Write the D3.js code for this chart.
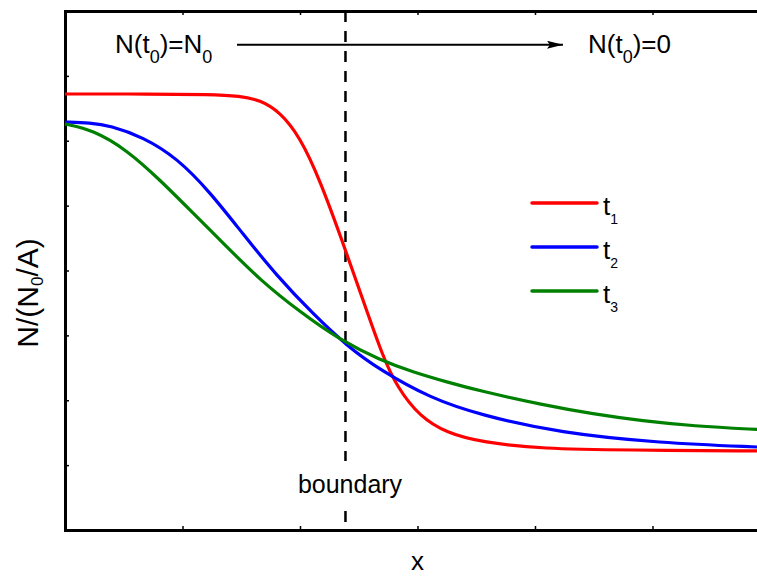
<!DOCTYPE html>
<html>
<head>
<meta charset="utf-8">
<script src="https://cdn.jsdelivr.net/npm/d3@7/dist/d3.min.js"></script>
<style>
  html, body { margin: 0; padding: 0; background: #fff; }
  svg { display: block; font-family: "Liberation Sans", Arial, sans-serif; }
</style>
</head>
<body>
<svg id="chart" width="757" height="576"></svg>
<script>
// ---- data ----
const seriesNames = ["t1", "t2", "t3"];
const seriesColors = ["#ff0000", "#0000ff", "#008000"];

const xT1 = [0, 0.723, 1.234, 1.489, 1.660, 1.830, 2.000, 2.170, 2.366, 2.536, 2.706, 2.826, 3.021, 3.251, 3.532, 4.068, 4.783, 5.889, 6.0];
const yT1 = [6.721, 6.721, 6.713, 6.690, 6.628, 6.443, 6.058, 5.395, 4.424, 3.545, 2.667, 2.204, 1.742, 1.495, 1.356, 1.249, 1.233, 1.218, 1.218];

const xT2 = [0, 0.213, 0.383, 0.664, 0.953, 1.234, 1.515, 1.804, 2.111, 2.400, 2.681, 3.106, 3.532, 4.213, 5.064, 5.889, 6.0];
const yT2 = [6.289, 6.277, 6.235, 6.058, 5.735, 5.210, 4.562, 3.915, 3.330, 2.836, 2.466, 2.035, 1.773, 1.495, 1.341, 1.279, 1.272];

const xT3 = [0, 0.238, 0.528, 0.809, 1.089, 1.379, 1.660, 2.000, 2.340, 2.681, 2.962, 3.251, 3.532, 4.068, 4.494, 4.919, 5.345, 5.889, 6.0];
const yT3 = [6.258, 6.166, 5.857, 5.395, 4.886, 4.362, 3.854, 3.360, 2.929, 2.620, 2.435, 2.281, 2.143, 1.927, 1.788, 1.680, 1.603, 1.549, 1.541];

const xDomain = [0, 6];
const yDomain = [0, 8];
const boundaryX = 2.387;
const arrowY = 7.48;
const arrowX = [1.464, 4.238];
const xLabel = "x";
const boundaryLabel = "boundary";

// ---- layout ----
const svg = d3.select("#chart");
const mLeft = 65, mRight = 770, mTop = 11, mBottom = 530;
const x = d3.scaleLinear().domain(xDomain).range([mLeft, mRight]);
const y = d3.scaleLinear().domain(yDomain).range([mBottom, mTop]);

// axes (ticks inward, no labels)
function styleAxis(g) {
  g.select(".domain").attr("stroke", "#000").attr("stroke-width", 3).attr("stroke-linecap", "square");
  g.selectAll(".tick line").attr("stroke", "#000").attr("stroke-width", 1.5);
  g.selectAll(".tick text").remove();
}
svg.append("g").attr("transform", `translate(0,${mBottom})`)
  .call(d3.axisBottom(x).ticks(6).tickSize(-4).tickSizeOuter(0).tickFormat(""))
  .call(styleAxis);
svg.append("g").attr("transform", `translate(0,${mTop})`)
  .call(d3.axisTop(x).ticks(6).tickSize(-4).tickSizeOuter(0).tickFormat(""))
  .call(styleAxis);
svg.append("g").attr("transform", `translate(${mLeft},0)`)
  .call(d3.axisLeft(y).ticks(8).tickSize(-4).tickSizeOuter(0).tickFormat(""))
  .call(styleAxis);

// boundary dashed line
svg.append("line")
  .attr("x1", x(boundaryX)).attr("x2", x(boundaryX))
  .attr("y1", y(8)).attr("y2", y(0))
  .attr("stroke", "#000").attr("stroke-width", 2.5)
  .attr("stroke-dasharray", "11,9");

// boundary label with white background
svg.append("rect")
  .attr("x", x(boundaryX) - 52).attr("y", 461)
  .attr("width", 112).attr("height", 48)
  .attr("fill", "#fff");
svg.append("text")
  .attr("x", 350).attr("y", 493)
  .attr("text-anchor", "middle")
  .attr("font-size", 25)
  .text(boundaryLabel);

// curves
const allX = [xT1, xT2, xT3];
const allY = [yT1, yT2, yT3];
const line = d3.line().x(d => x(d[0])).y(d => y(d[1])).curve(d3.curveBasis);
seriesNames.forEach((name, i) => {
  const pts = allX[i].map((v, j) => [v, allY[i][j]]);
  svg.append("path")
    .datum(pts)
    .attr("d", line)
    .attr("fill", "none")
    .attr("stroke", seriesColors[i])
    .attr("stroke-width", 3.2);
});

// legend
const legendY = [203, 247, 291];
seriesNames.forEach((name, i) => {
  svg.append("line")
    .attr("x1", 532).attr("x2", 597)
    .attr("y1", legendY[i]).attr("y2", legendY[i])
    .attr("stroke", seriesColors[i]).attr("stroke-width", 3.5)
    .attr("stroke-linecap", "round");
  const t = svg.append("text")
    .attr("x", 603).attr("y", legendY[i] + 12)
    .attr("font-size", 26);
  t.append("tspan").text("t");
  t.append("tspan").attr("dy", 9).attr("font-size", 14).text(name.slice(1));
});

// arrow annotation
const defs = svg.append("defs");
defs.append("marker")
  .attr("id", "arrowhead")
  .attr("viewBox", "0 0 16 8")
  .attr("refX", 16).attr("refY", 4)
  .attr("markerWidth", 16).attr("markerHeight", 8)
  .attr("markerUnits", "userSpaceOnUse")
  .attr("orient", "auto")
  .append("path").attr("d", "M0,0 L16,4 L0,8 L3,4 Z").attr("fill", "#000");
svg.append("line")
  .attr("x1", x(arrowX[0])).attr("x2", x(arrowX[1]))
  .attr("y1", y(arrowY)).attr("y2", y(arrowY))
  .attr("stroke", "#000").attr("stroke-width", 2)
  .attr("marker-end", "url(#arrowhead)");

function subText(xp, yp, parts, size, subSize, shift) {
  const t = svg.append("text").attr("x", xp).attr("y", yp)
    .attr("font-size", size);
  parts.forEach(p => {
    if (p.sub) {
      t.append("tspan").attr("dy", shift).attr("font-size", subSize).text(p.s);
    } else {
      t.append("tspan").attr("dy", p.after ? -shift : 0).text(p.s);
    }
  });
  return t;
}
subText(115, 53, [{s: "N(t"}, {s: "0", sub: true}, {s: ")=N", after: true}, {s: "0", sub: true}], 26, 18, 10);
subText(588, 53, [{s: "N(t"}, {s: "0", sub: true}, {s: ")=0", after: true}], 26, 18, 10);

// axis titles
svg.append("text")
  .attr("x", (mLeft + mRight) / 2).attr("y", 570)
  .attr("text-anchor", "middle")
  .attr("font-size", 26)
  .text(xLabel);

const yl = svg.append("text")
  .attr("transform", `translate(38,293) rotate(-90)`)
  .attr("text-anchor", "middle")
  .attr("font-size", 30);
yl.append("tspan").text("N/(N");
yl.append("tspan").attr("dy", 5).attr("font-size", 17).text("0");
yl.append("tspan").attr("dy", -5).text("/A)");
</script>
</body>
</html>
